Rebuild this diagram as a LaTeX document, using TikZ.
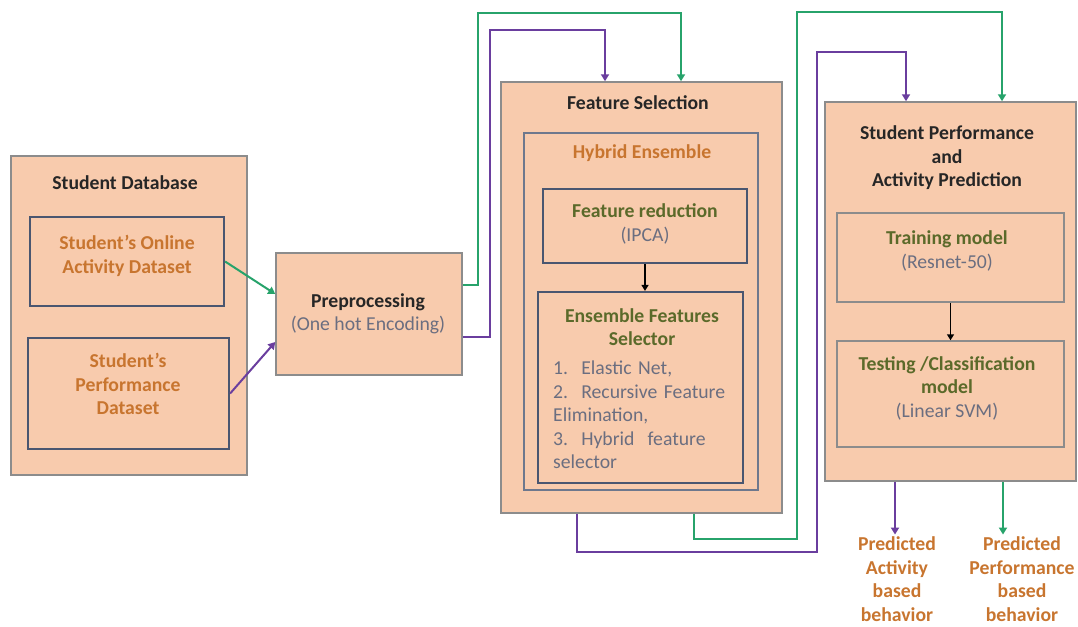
\documentclass[tikz,border=0pt]{standalone}
\usepackage{fontspec}
\setmainfont{Carlito}
\usetikzlibrary{arrows.meta,calc}
\definecolor{peach}{HTML}{F8CBAD}
\definecolor{outerc}{HTML}{8C8C8C}
\definecolor{innerc}{HTML}{4A5670}
\definecolor{greenc}{HTML}{27A36B}
\definecolor{purplec}{HTML}{6A3E9E}
\definecolor{orangec}{HTML}{C8752F}
\definecolor{olivec}{HTML}{5B6A2A}
\definecolor{greyc}{HTML}{6B6E80}
\definecolor{titlec}{HTML}{262626}
\begin{document}
\begin{tikzpicture}[x=1pt,y=-1pt,
  outerbox/.style={draw=outerc, line width=1.5pt, fill=peach, inner sep=0pt},
  innerbox/.style={draw=innerc, line width=2.2pt, fill=peach, inner sep=0pt},
  txt/.style={font=\fontsize{19.7}{23.5}\selectfont, align=center, inner sep=0pt},
  ttl/.style={txt, font=\bfseries\fontsize{19.7}{23.5}\selectfont, text=titlec},
  otxt/.style={txt, font=\bfseries\fontsize{19.7}{23.5}\selectfont, text=orangec},
  vtxt/.style={txt, font=\bfseries\fontsize{19.7}{23.5}\selectfont, text=olivec},
  gtxt/.style={txt, text=greyc},
  gline/.style={draw=greenc, line width=2pt, -{Triangle[width=8pt,length=7pt]}},
  pline/.style={draw=purplec, line width=2pt, -{Triangle[width=8pt,length=7pt]}},
  kline/.style={draw=black, line width=1.8pt, -{Triangle[width=7pt,length=6pt]}}
]
\useasboundingbox (0,0) rectangle (1078,626);

% boxes
\node[outerbox, minimum width=236pt, minimum height=319pt] (db) at (129,315.5) {};
\node[innerbox, minimum width=194pt, minimum height=89pt] (online) at (127,261.5) {};
\node[innerbox, minimum width=201pt, minimum height=111pt] (perf) at (128.5,393.5) {};
\node[outerbox, minimum width=186pt, minimum height=122pt] (prep) at (369,314) {};
\node[outerbox, minimum width=281pt, minimum height=431pt] (fs) at (641.5,297.5) {};
\node[innerbox, line width=1.8pt, draw=innerc!80, minimum width=234pt, minimum height=357pt] (hyb) at (641,311.5) {};
\node[innerbox, minimum width=204pt, minimum height=74pt] (fr) at (645,226) {};
\node[innerbox, minimum width=205pt, minimum height=191pt] (ens) at (640.5,387.5) {};
\node[outerbox, minimum width=251pt, minimum height=379pt] (sp) at (950.5,291.5) {};
\node[outerbox, minimum width=227pt, minimum height=89pt] (tr) at (950.5,257.5) {};
\node[outerbox, minimum width=227pt, minimum height=106pt] (te) at (950.5,394) {};

% texts
\node[ttl] (dbt) at (125,183) {Student Database};
\node[otxt] (onlinet) at (127,256) {Student’s Online\\Activity Dataset};
\node[otxt] (perft) at (128,384) {Student’s\\Performance\\Dataset};
\node[txt] (prept) at (368,314) {{\bfseries\color{titlec}Preprocessing}\\{\color{greyc}(One hot Encoding)}};
\node[ttl] (fst) at (638,103) {Feature Selection};
\node[otxt] (hybt) at (642,153) {Hybrid Ensemble};
\node[txt] (frt) at (645,224) {{\bfseries\color{olivec}Feature reduction}\\{\color{greyc}(IPCA)}};
\node[vtxt] (ensh) at (642,327) {Ensemble Features\\Selector};
\node[gtxt, text width=178pt, align=left, anchor=west] (ensl) at (553,415)
  {1.\ \ Elastic Net,\\\makebox[175pt][s]{2.\ \ Recursive Feature}\\Elimination,\\3.\ \ Hybrid\ \ feature\\selector};
\node[ttl] (spt) at (947,158) {Student Performance\\and\\Activity Prediction};
\node[txt] (trt) at (947,251) {{\bfseries\color{olivec}Training model}\\{\color{greyc}(Resnet-50)}};
\node[txt] (tet) at (947,388) {{\bfseries\color{olivec}Testing /Classification}\\{\bfseries\color{olivec}model}\\{\color{greyc}(Linear SVM)}};
\node[otxt, inner sep=2pt] (out1) at (897,579) {Predicted\\Activity\\based\\behavior};
\node[otxt, inner sep=2pt] (out2) at (1022,579) {Predicted\\Performance\\based\\behavior};

% helper coordinates
\coordinate (fsg) at ([xshift=39.5pt]fs.north);
\coordinate (fsp) at ([xshift=-36.5pt]fs.north);
\coordinate (fsgs) at ([xshift=52.5pt]fs.south);
\coordinate (fsps) at ([xshift=-64.5pt]fs.south);
\coordinate (spg) at ([xshift=51.5pt]sp.north);
\coordinate (spp) at ([xshift=-44.5pt]sp.north);
\coordinate (spgs) at ([xshift=52.5pt]sp.south);
\coordinate (spps) at ([xshift=-55.5pt]sp.south);

% connectors
\draw[gline] (online.east) -- ([yshift=20pt]prep.west);
\draw[pline] (perf.east) -- ([yshift=-28pt]prep.west);
\draw[gline] ([yshift=29pt]prep.east) -- ++(15pt,0) |- (fsg |- 0,13) -- (fsg);
\draw[pline] ([yshift=-23pt]prep.east) -- ++(27pt,0) |- (fsp |- 0,30) -- (fsp);
\draw[kline] (fr.south) -- (fr.south |- ens.north);
\draw[kline] (tr.south) -- (te.north);
\draw[gline] (fsgs) -- (fsgs |- 0,539) -- (797,539) -- (797,12) -| (spg);
\draw[pline] (fsps) -- (fsps |- 0,552) -- (817,552) -- (817,52) -| (spp);
\draw[pline] (spps) -- (spps |- out1.north);
\draw[gline] (spgs) -- (spgs |- out2.north);
\end{tikzpicture}
\end{document}
